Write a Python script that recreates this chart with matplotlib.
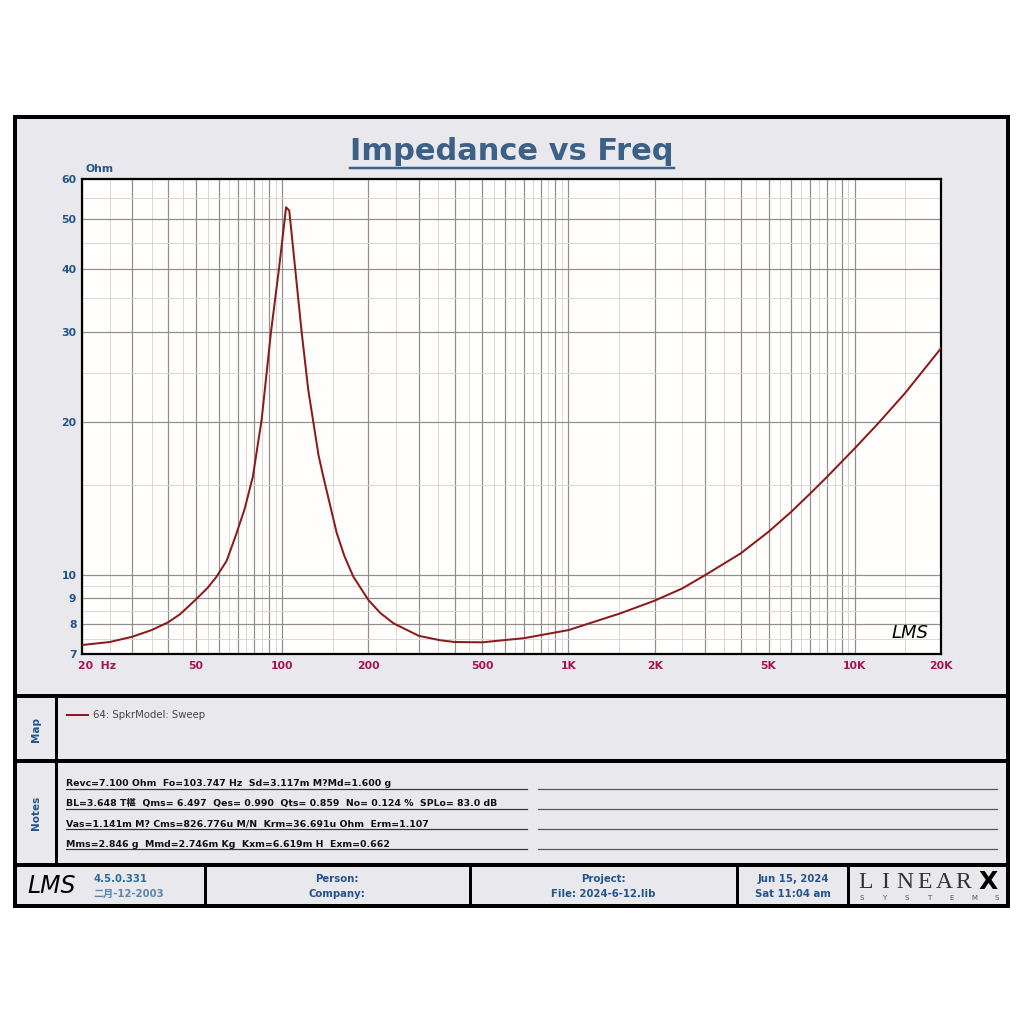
import matplotlib
matplotlib.use("Agg")
import matplotlib.pyplot as plt
from matplotlib.patches import Rectangle
from matplotlib.ticker import FixedLocator, FuncFormatter, NullFormatter

# ---------------- data ----------------
freq_hz = [20, 25, 30, 35, 40, 44, 50, 55, 59, 64, 69, 74, 79, 84.8,
           91.4, 97.5, 100, 103.2, 105.9, 117, 123.4, 134,
           139.3, 155.1, 165, 177.3, 200, 220, 245, 300, 356, 400, 500, 700,
           1000, 1515, 2000, 2500, 3000, 4000, 5000, 6000, 7000, 8000, 9000,
           10000, 12000, 15000, 20000]
impedance_ohm = [7.29, 7.39, 7.57, 7.80, 8.08, 8.38, 8.96, 9.45, 9.93, 10.67,
                 12.0, 13.5, 15.6, 20.2, 30.0, 40.0, 45.2, 52.8,
                 52.0, 30.0, 23.1, 17.2, 15.6, 12.1, 10.9,
                 9.93, 8.94, 8.43, 8.04, 7.60, 7.45, 7.39, 7.38, 7.52, 7.80,
                 8.41, 8.91, 9.42, 10.0, 11.04, 12.17, 13.32, 14.48, 15.6,
                 16.7, 17.75, 19.8, 22.8, 27.9]

x_tick_labels = {50: "50", 100: "100", 200: "200", 500: "500", 1000: "1K",
                 2000: "2K", 5000: "5K", 10000: "10K", 20000: "20K"}
y_tick_values = [7, 8, 9, 10, 20, 30, 40, 50, 60]

title = "Impedance vs Freq"
series_name = "64: SpkrModel: Sweep"
notes_lines = [
    "Revc=7.100 Ohm  Fo=103.747 Hz  Sd=3.117m M?Md=1.600 g",
    "BL=3.648 T椹  Qms= 6.497  Qes= 0.990  Qts= 0.859  No= 0.124 %  SPLo= 83.0 dB",
    "Vas=1.141m M? Cms=826.776u M/N  Krm=36.691u Ohm  Erm=1.107",
    "Mms=2.846 g  Mmd=2.746m Kg  Kxm=6.619m H  Exm=0.662",
]
footer_version = ["4.5.0.331", "二月-12-2003"]
footer_person = ["Person:", "Company:"]
footer_project = ["Project:", "File: 2024-6-12.lib"]
footer_date = ["Jun 15, 2024", "Sat 11:04 am"]

# ---------------- styles ----------------
FONTS = ["DejaVu Sans", "Noto Sans CJK SC"]
plt.rcParams["font.family"] = FONTS
BLUE = "#24548c"
TITLE_BLUE = "#3c6088"
XRED = "#a3174e"
PANEL = "#e9e9ed"
CURVE = "#8b1a1a"
PX = 0.72  # points per pixel at dpi 100

fig = plt.figure(figsize=(10.24, 10.24), dpi=100)
fig.patch.set_facecolor("white")

# overlay axes in pixel coordinates
bg = fig.add_axes([0, 0, 1, 1], zorder=0)
bg.set_xlim(0, 1024)
bg.set_ylim(1024, 0)
bg.axis("off")

bg.add_patch(Rectangle((15, 117), 993, 789, facecolor=PANEL, edgecolor="black",
                       linewidth=4 * PX))
for yy in (695.5, 761, 864.5):
    bg.plot([15, 1008], [yy, yy], color="black", lw=4 * PX, solid_capstyle="butt")
bg.plot([56, 56], [695, 864], color="black", lw=3 * PX)
for xx in (205, 470, 737, 848):
    bg.plot([xx, xx], [864, 906], color="black", lw=3 * PX)

# title
t = bg.text(512, 152, title, ha="center", va="center", fontsize=22,
            fontweight="bold", color=TITLE_BLUE)
fig.canvas.draw()
bb = t.get_window_extent()
bg.plot([bb.x0, bb.x1], [168, 168], color=TITLE_BLUE, lw=2.5 * PX)

# ---------------- main plot ----------------
ax = fig.add_axes([82 / 1024, 1 - 654 / 1024, (941 - 82) / 1024, (654 - 179) / 1024],
                  zorder=2)
ax.set_facecolor("#fffefc")
ax.set_xscale("log")
ax.set_yscale("log")
ax.set_xlim(20, 20000)
ax.set_ylim(7, 60)

dark_x = [k * d for d in (10, 100, 1000, 10000) for k in range(1, 10)
          if 20 <= k * d <= 20000]
light_x = [(k + 0.5) * d for d in (10, 100, 1000, 10000) for k in range(1, 10)
           if 20 <= (k + 0.5) * d <= 20000]
dark_y = [7, 8, 9, 10, 20, 30, 40, 50, 60]
light_y = [7.5, 8.5, 9.5, 15, 25, 35, 45, 55]

ax.xaxis.set_major_locator(FixedLocator(dark_x))
ax.xaxis.set_minor_locator(FixedLocator(light_x))
ax.xaxis.set_major_formatter(FuncFormatter(lambda v, p: x_tick_labels.get(int(round(v)), "")))
ax.xaxis.set_minor_formatter(NullFormatter())
ax.yaxis.set_major_locator(FixedLocator(dark_y))
ax.yaxis.set_minor_locator(FixedLocator(light_y))
ax.yaxis.set_major_formatter(FuncFormatter(
    lambda v, p: str(int(round(v))) if int(round(v)) in y_tick_values else ""))
ax.yaxis.set_minor_formatter(NullFormatter())

ax.grid(which="minor", color="#d8d8d8", lw=1.0 * PX)
ax.grid(which="major", color="#8e8e8e", lw=1.2 * PX)
ax.set_axisbelow(True)
ax.tick_params(which="both", length=0)
ax.tick_params(axis="x", pad=5, labelsize=7.8, labelcolor=XRED)
ax.tick_params(axis="y", pad=4, labelsize=7.8, labelcolor=BLUE)
for lab in ax.get_xticklabels() + ax.get_yticklabels():
    lab.set_fontweight("bold")
for s in ax.spines.values():
    s.set_color("black")
    s.set_linewidth(2.2 * PX)

ax.plot(freq_hz, impedance_ohm, color=CURVE, lw=2.0 * PX, zorder=3,
        solid_joinstyle="round")

ax.annotate("20  Hz", xy=(20, 7), xycoords="data", xytext=(-3, -5),
            textcoords="offset points", ha="left", va="top", fontsize=7.8,
            fontweight="bold", color=XRED, annotation_clip=False)
bg.text(85, 169, "Ohm", ha="left", va="center", fontsize=7.8, fontweight="bold",
        color=BLUE)
ax.text(0.985, 0.025, "LMS", transform=ax.transAxes, ha="right", va="bottom",
        fontsize=13, fontstyle="italic", color="black", zorder=4)

# ---------------- map section ----------------
bg.text(36, 729, "Map", rotation=90, ha="center", va="center", fontsize=7.5,
        fontweight="bold", color=BLUE)
bg.plot([67, 88], [715, 715], color=CURVE, lw=2 * PX)
bg.text(93, 715, series_name, ha="left", va="center", fontsize=7.3, color="#444444")

# ---------------- notes section ----------------
bg.text(36, 813, "Notes", rotation=90, ha="center", va="center", fontsize=7.5,
        fontweight="bold", color=BLUE)
for i, line in enumerate(notes_lines):
    yb = 787 + i * 20.3
    bg.text(66, yb - 1, line, ha="left", va="baseline", fontsize=6.75,
            fontweight="bold", color="#111111")
    bg.plot([66, 527], [yb + 1.5, yb + 1.5], color="#333333", lw=1.2 * PX)
    bg.plot([538, 997], [yb + 1.5, yb + 1.5], color="#555555", lw=1.2 * PX)

# ---------------- footer ----------------
bg.text(52, 886, "LMS", ha="center", va="center", fontsize=17, fontstyle="italic",
        color="black")
bg.text(93, 879, footer_version[0], ha="left", va="center", fontsize=7.3,
        fontweight="bold", color="#2e6aa0")
bg.text(93, 894, footer_version[1], ha="left", va="center", fontsize=7.3,
        fontweight="bold", color="#5a86b0")
for cx, lines in ((337, footer_person), (603, footer_project), (793, footer_date)):
    bg.text(cx, 879, lines[0], ha="center", va="center", fontsize=7.3,
            fontweight="bold", color=BLUE)
    bg.text(cx, 894, lines[1], ha="center", va="center", fontsize=7.3,
            fontweight="bold", color=BLUE)

# LINEARX logo
for i, ch in enumerate("LINEAR"):
    bg.text(866 + i * 19.5, 882, ch, ha="center", va="center", fontsize=17,
            family=["Liberation Serif", "DejaVu Serif"], color="#333333")
bg.text(988, 882, "X", ha="center", va="center", fontsize=18, fontweight="black",
        color="black")
for i, ch in enumerate("SYSTEMS"):
    bg.text(862 + i * 22.5, 898, ch, ha="center", va="center", fontsize=5,
            color="#555555")

fig.savefig("out.png", dpi=100, facecolor="white")
